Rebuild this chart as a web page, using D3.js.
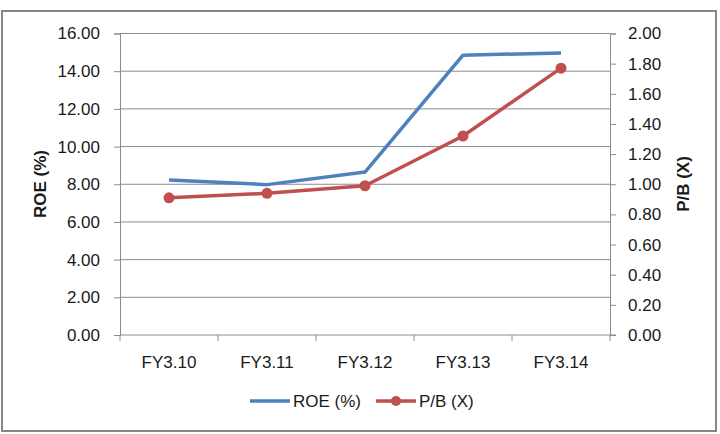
<!DOCTYPE html>
<html>
<head>
<meta charset="utf-8">
<script src="https://cdn.jsdelivr.net/npm/d3@7"></script>
<style>
  body { margin: 0; background: #fff; }
  text { font-family: "Liberation Sans", Arial, sans-serif; fill: #1a1a1a; }
</style>
</head>
<body>
<svg id="chart" width="720" height="434"></svg>
<script>
// chart data
let categories = ["FY3.10", "FY3.11", "FY3.12", "FY3.13", "FY3.14"]
let roeValues = [8.22, 7.98, 8.65, 14.85, 14.97]
let pbValues = [0.91, 0.94, 0.99, 1.32, 1.77]
let leftTicks = [0, 2, 4, 6, 8, 10, 12, 14, 16]
let rightTicks = [0, 0.2, 0.4, 0.6, 0.8, 1.0, 1.2, 1.4, 1.6, 1.8, 2.0]

let svg = d3.select('#chart')

let plot = { left: 120, right: 610, top: 33.5, bottom: 335 }

// outer frame
svg.append('rect')
    .attr('x', 2).attr('y', 11)
    .attr('width', 714).attr('height', 420)
    .attr('fill', 'none')
    .attr('stroke', '#868686')
    .attr('stroke-width', 2)

let x = d3.scaleBand()
    .domain(categories)
    .range([plot.left, plot.right])

let yLeft = d3.scaleLinear().domain([0, 16]).range([plot.bottom, plot.top])
let yRight = d3.scaleLinear().domain([0, 2]).range([plot.bottom, plot.top])

// gridlines
svg.append('g')
    .selectAll('line')
    .data(leftTicks.slice(1))
    .enter()
    .append('line')
    .attr('x1', plot.left).attr('x2', plot.right)
    .attr('y1', d => yLeft(d)).attr('y2', d => yLeft(d))
    .attr('stroke', '#8c8c8c')
    .attr('stroke-width', 1)

// left axis
let leftAxis = svg.append('g')
    .attr('transform', `translate(${plot.left},0)`)
    .call(d3.axisLeft(yLeft).tickValues(leftTicks).tickFormat(d3.format('.2f')).tickSize(6).tickPadding(14))
leftAxis.selectAll('path, line').attr('stroke', '#8c8c8c')
leftAxis.selectAll('text').style('font-size', '17px').attr('fill', '#1a1a1a')

// right axis
let rightAxis = svg.append('g')
    .attr('transform', `translate(${plot.right},0)`)
    .call(d3.axisRight(yRight).tickValues(rightTicks).tickFormat(d3.format('.2f')).tickSize(6).tickPadding(12))
rightAxis.selectAll('path, line').attr('stroke', '#8c8c8c')
rightAxis.selectAll('text').style('font-size', '17px').attr('fill', '#1a1a1a')

// bottom axis with ticks between categories
let bottom = svg.append('g')
    .attr('transform', `translate(0,${plot.bottom})`)
bottom.append('line')
    .attr('x1', plot.left).attr('x2', plot.right + 6)
    .attr('stroke', '#8c8c8c')
bottom.selectAll('line.tick')
    .data(categories.concat(['end']))
    .enter()
    .append('line')
    .attr('class', 'tick')
    .attr('x1', (d, i) => plot.left + i * x.bandwidth())
    .attr('x2', (d, i) => plot.left + i * x.bandwidth())
    .attr('y1', 0).attr('y2', 6)
    .attr('stroke', '#8c8c8c')
bottom.selectAll('text')
    .data(categories)
    .enter()
    .append('text')
    .attr('x', d => x(d) + x.bandwidth() / 2)
    .attr('y', 33)
    .attr('text-anchor', 'middle')
    .style('font-size', '17px')
    .text(d => d)

// axis titles
svg.append('text')
    .attr('transform', 'translate(46,184) rotate(-90)')
    .attr('text-anchor', 'middle')
    .style('font-size', '17px')
    .style('font-weight', 'bold')
    .text('ROE (%)')

svg.append('text')
    .attr('transform', 'translate(689,184) rotate(-90)')
    .attr('text-anchor', 'middle')
    .style('font-size', '17px')
    .style('font-weight', 'bold')
    .text('P/B (X)')

let cx = d => x(d) + x.bandwidth() / 2

// ROE line
svg.append('path')
    .datum(roeValues)
    .attr('fill', 'none')
    .attr('stroke', '#4f81bd')
    .attr('stroke-width', 3.5)
    .attr('stroke-linejoin', 'round')
    .attr('d', d3.line().x((d, i) => cx(categories[i])).y(d => yLeft(d)))

// P/B line
svg.append('path')
    .datum(pbValues)
    .attr('fill', 'none')
    .attr('stroke', '#c0504d')
    .attr('stroke-width', 3.5)
    .attr('stroke-linejoin', 'round')
    .attr('d', d3.line().x((d, i) => cx(categories[i])).y(d => yRight(d)))

svg.append('g')
    .selectAll('circle')
    .data(pbValues)
    .enter()
    .append('circle')
    .attr('cx', (d, i) => cx(categories[i]))
    .attr('cy', d => yRight(d))
    .attr('r', 5.5)
    .attr('fill', '#c0504d')

// legend
let legend = svg.append('g')
legend.append('line')
    .attr('x1', 250).attr('x2', 290).attr('y1', 401).attr('y2', 401)
    .attr('stroke', '#4f81bd').attr('stroke-width', 3.5)
legend.append('text')
    .attr('x', 293).attr('y', 407)
    .style('font-size', '17px')
    .text('ROE (%)')
legend.append('line')
    .attr('x1', 376).attr('x2', 416).attr('y1', 401).attr('y2', 401)
    .attr('stroke', '#c0504d').attr('stroke-width', 3.5)
legend.append('circle')
    .attr('cx', 396).attr('cy', 401).attr('r', 5)
    .attr('fill', '#c0504d')
legend.append('text')
    .attr('x', 419).attr('y', 407)
    .style('font-size', '17px')
    .text('P/B (X)')
</script>
</body>
</html>
